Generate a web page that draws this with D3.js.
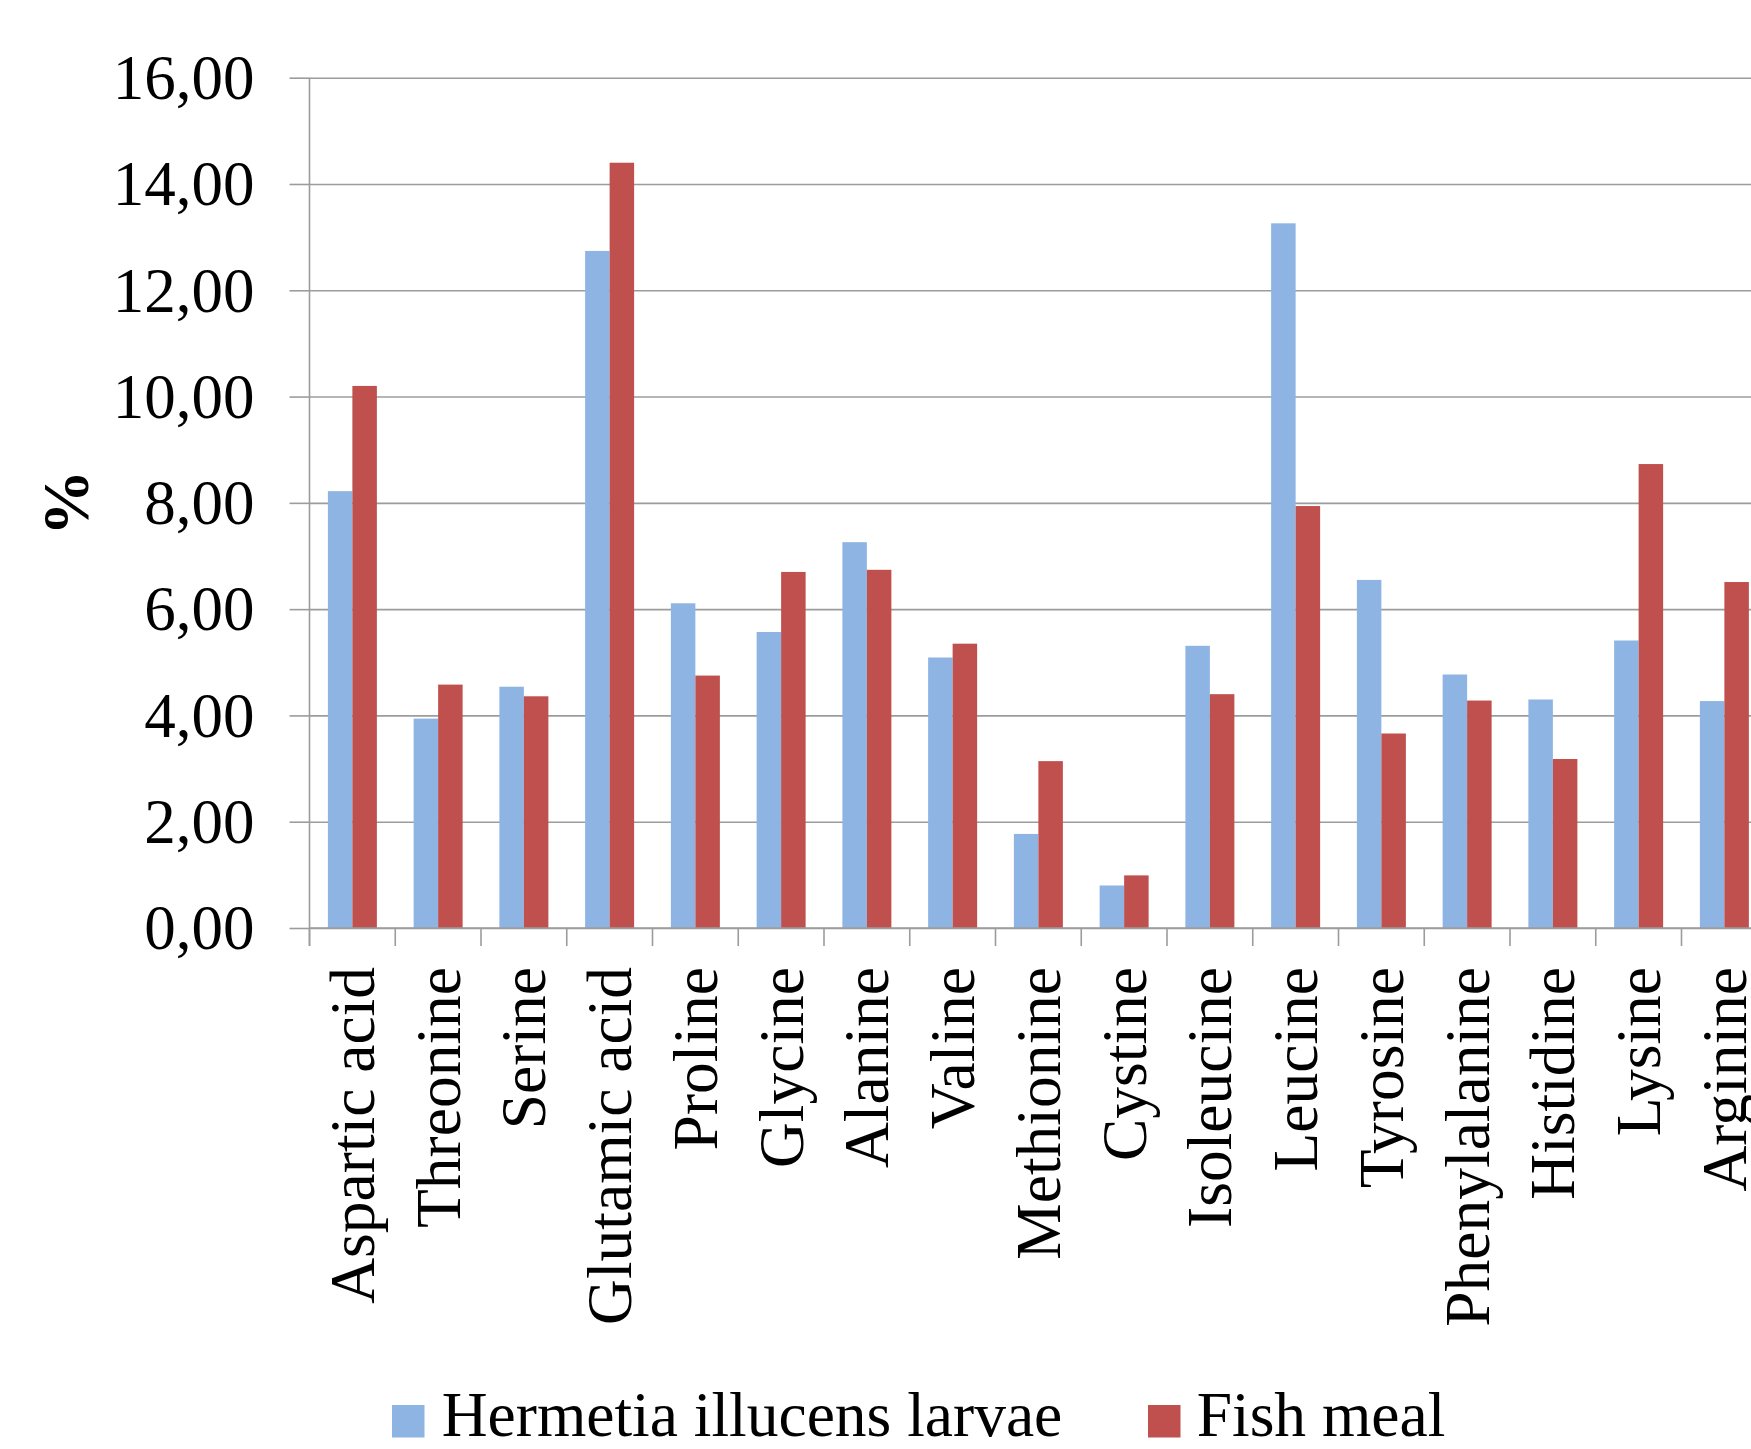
<!DOCTYPE html>
<html>
<head>
<meta charset="utf-8">
<script src="https://cdn.jsdelivr.net/npm/d3@7"></script>
<style>
  html, body { margin: 0; padding: 0; background: #ffffff; overflow: hidden; }
  svg { display: block; }
  text { font-family: "Liberation Serif", "Times New Roman", serif; fill: #000; }
</style>
</head>
<body>
<svg id="chart" width="1751" height="1449"></svg>
<script>
// Amino acid composition (% of protein)
const categories = [
  "Aspartic acid", "Threonine", "Serine", "Glutamic acid", "Proline", "Glycine",
  "Alanine", "Valine", "Methionine", "Cystine", "Isoleucine", "Leucine",
  "Tyrosine", "Phenylalanine", "Histidine", "Lysine", "Arginine"
];
const seriesNames = ["Hermetia illucens larvae", "Fish meal"];
const hermetiaValues = [8.22, 3.94, 4.54, 12.74, 6.11, 5.57, 7.26, 5.09, 1.77, 0.80, 5.31, 13.26, 6.55, 4.77, 4.30, 5.41, 4.27];
const fishMealValues = [10.20, 4.58, 4.36, 14.40, 4.75, 6.70, 6.74, 5.35, 3.14, 0.99, 4.40, 7.94, 3.66, 4.28, 3.18, 8.73, 6.51];
const yTicks = [0, 2, 4, 6, 8, 10, 12, 14, 16];
const yTitle = "%";

const colors = ["#8EB4E3", "#C0504D"];
const svg = d3.select("#chart");

// Plot frame: the category axis runs on past the right edge of the page
const plotLeft = 309.5, plotTop = 77.7, plotBottom = 928;
const step = 85.75;
const plotRight = plotLeft + step * categories.length;
const labelSize = 63.5;

const x = d3.scaleBand().domain(categories).range([plotLeft, plotRight]).paddingInner(0).paddingOuter(0);
const xs = d3.scaleBand().domain(seriesNames).range([0, x.bandwidth()]).paddingInner(0).paddingOuter(0.75);
const y = d3.scaleLinear().domain([0, 16]).range([plotBottom, plotTop]);

const commaFmt = d3.formatLocale({ decimal: ",", thousands: ".", grouping: [3], currency: ["", ""] }).format(".2f");
const gridColor = "#9c9c9c";

// Horizontal gridlines
const grid = svg.append("g")
  .attr("transform", `translate(${plotLeft},0)`)
  .call(d3.axisLeft(y).tickValues(yTicks).tickSize(-(plotRight - plotLeft)).tickFormat(""));
grid.select(".domain").remove();
grid.selectAll("line").attr("stroke", gridColor).attr("stroke-width", 1.6);

// Bars
const rows = categories.map((c, i) => ({ cat: c, vals: [hermetiaValues[i], fishMealValues[i]] }));
const groups = svg.append("g").selectAll("g")
  .data(rows).join("g")
  .attr("transform", d => `translate(${x(d.cat)},0)`);
groups.selectAll("rect")
  .data(d => d.vals.map((v, k) => ({ name: seriesNames[k], v, k })))
  .join("rect")
  .attr("x", d => xs(d.name))
  .attr("width", xs.bandwidth())
  .attr("y", d => y(d.v))
  .attr("height", d => y(0) - y(d.v))
  .attr("fill", d => colors[d.k]);

// Y axis with labels
const yAxis = svg.append("g")
  .attr("transform", `translate(${plotLeft},0)`)
  .call(d3.axisLeft(y).tickValues(yTicks).tickSize(20).tickPadding(35).tickFormat(commaFmt));
yAxis.select(".domain").remove();
yAxis.selectAll("line").attr("stroke", gridColor).attr("stroke-width", 1.6);
yAxis.selectAll("text")
  .attr("font-family", "Liberation Serif, Times New Roman, serif")
  .attr("font-size", 63)
  .attr("fill", "#000")
  .attr("dy", "0.33em");

// Axis lines
svg.append("line")
  .attr("x1", plotLeft).attr("x2", plotLeft)
  .attr("y1", plotTop).attr("y2", plotBottom + 18)
  .attr("stroke", gridColor).attr("stroke-width", 1.6);
svg.append("line")
  .attr("x1", plotLeft).attr("x2", plotRight)
  .attr("y1", plotBottom).attr("y2", plotBottom)
  .attr("stroke", gridColor).attr("stroke-width", 1.6);

// Category boundary ticks
const bounds = categories.map(c => x(c)).concat([plotRight]);
svg.append("g").selectAll("line")
  .data(bounds).join("line")
  .attr("x1", d => d).attr("x2", d => d)
  .attr("y1", plotBottom).attr("y2", plotBottom + 18)
  .attr("stroke", gridColor).attr("stroke-width", 1.6);

// Category labels, rotated
svg.append("g").selectAll("text")
  .data(categories).join("text")
  .attr("transform", d => `translate(${x(d) + x.bandwidth() / 2 + 21.5},${plotBottom + 39}) rotate(-90)`)
  .attr("text-anchor", "end")
  .attr("font-size", labelSize)
  .text(d => d);

// Y axis title
svg.append("text")
  .attr("transform", `translate(88,${(plotTop + plotBottom) / 2}) rotate(-90)`)
  .attr("text-anchor", "middle")
  .attr("font-size", 66)
  .attr("font-weight", "bold")
  .text(yTitle);

// Legend
const legendItems = [
  { name: seriesNames[0], color: colors[0], sx: 392, tx: 441.7 },
  { name: seriesNames[1], color: colors[1], sx: 1148, tx: 1196.7 }
];
const lg = svg.append("g").selectAll("g").data(legendItems).join("g");
lg.append("rect")
  .attr("x", d => d.sx).attr("y", 1405)
  .attr("width", 32.5).attr("height", 32.5)
  .attr("fill", d => d.color);
lg.append("text")
  .attr("x", d => d.tx).attr("y", 1436)
  .attr("font-size", 63.5)
  .text(d => d.name);
</script>
</body>
</html>
